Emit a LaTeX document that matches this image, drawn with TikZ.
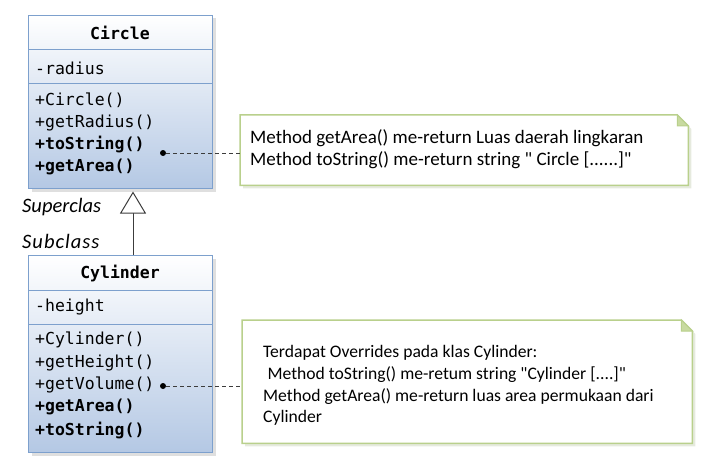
\documentclass[tikz,border=0pt]{standalone}
\usepackage{fontspec}
\setmainfont{Carlito}[Ligatures=TeXOff]
\setmonofont{DejaVu Sans Mono}
\usetikzlibrary{arrows.meta,shadows,backgrounds}
\definecolor{umlborder}{RGB}{125,160,205}
\definecolor{umlbottom}{RGB}{180,200,228}
\definecolor{noteborder}{RGB}{185,208,140}
\definecolor{noteshadow}{RGB}{205,214,190}
\definecolor{notefold}{RGB}{200,218,160}
\definecolor{lineclr}{RGB}{60,60,60}
\begin{document}
\begin{tikzpicture}[x=1pt,y=-1pt,
  classbox/.style={draw=umlborder, line width=1pt, top color=white, bottom color=umlbottom,
    drop shadow={shadow xshift=3pt,shadow yshift=-3pt,fill=black!25}, inner sep=0pt, anchor=north west},
  sepline/.style={draw=umlborder, line width=1pt},
  cname/.style={font=\fontsize{16.5}{19}\selectfont\ttfamily\bfseries, inner sep=0pt},
  member/.style={font=\fontsize{16.5}{19}\selectfont\ttfamily, inner sep=0pt, anchor=west},
  bmember/.style={member, font=\fontsize{16.5}{19}\selectfont\ttfamily\bfseries},
  notebox/.style={fill=white, draw=noteborder, line width=1.5pt,
    drop shadow={shadow xshift=3pt,shadow yshift=-3pt,fill=noteshadow}},
  notearea/.style={inner sep=0pt, anchor=north west},
  notetext/.style={align=left, anchor=west, inner sep=0pt},
  lbl/.style={font=\fontsize{20.5}{22}\selectfont\itshape, inner sep=0pt, anchor=west},
  dot/.style={circle, fill=black, inner sep=0pt, minimum size=6pt},
  dashline/.style={draw=lineclr, line width=1pt, dash pattern=on 4pt off 3pt},
  inherit/.style={draw=lineclr, line width=1pt, shorten >=2.5pt,
    -{Triangle[length=22pt, width=26pt, fill=white]}}
]
\useasboundingbox (0,0) rectangle (705,460);

% ---------- Circle class ----------
\node[classbox, minimum width=184pt, minimum height=173pt] (circle) at (28,15) {};
\coordinate (cs1) at (0,50);
\coordinate (cs2) at (0,84);
\draw[sepline] (circle.west |- cs1) -- (circle.east |- cs1);
\draw[sepline] (circle.west |- cs2) -- (circle.east |- cs2);
\node[cname] (circlename) at (120,33) {Circle};
\node[member] (radius) at (35,68) {-radius};
\node[member] (m1) at (35,100) {+Circle()};
\node[member] (m2) at (35,123) {+getRadius()};
\node[bmember] (m3) at (35,145) {+toString()};
\node[bmember] (m4) at (35,167) {+getArea()};

% ---------- Cylinder class ----------
\node[classbox, minimum width=184pt, minimum height=197pt] (cyl) at (28,255) {};
\coordinate (ys1) at (0,290);
\coordinate (ys2) at (0,324);
\draw[sepline] (cyl.west |- ys1) -- (cyl.east |- ys1);
\draw[sepline] (cyl.west |- ys2) -- (cyl.east |- ys2);
\node[cname] (cylname) at (120,274) {Cylinder};
\node[member] (height) at (35,307) {-height};
\node[member] (k1) at (35,340) {+Cylinder()};
\node[member] (k2) at (35,363) {+getHeight()};
\node[member] (k3) at (35,385) {+getVolume()};
\node[bmember] (k4) at (35,407) {+getArea()};
\node[bmember] (k5) at (35,430) {+toString()};

% ---------- inheritance ----------
\coordinate (ax) at (133,0);
\draw[inherit] (cyl.north -| ax) -- (circle.south -| ax);
\node[lbl] (sup) at (22,207) {Superclas};
\node[lbl, font=\fontsize{20.5}{22}\selectfont\itshape\addfontfeature{LetterSpace=5}] (sub) at (22,241) {Subclass};

% ---------- notes ----------
\node[notearea, minimum width=448pt, minimum height=70pt] (n1) at (240,115) {};
\node[notearea, minimum width=450pt, minimum height=123pt] (n2) at (242,320) {};
\begin{pgfonlayer}{background}
  \filldraw[notebox] (n1.north west) -- ([xshift=-11pt]n1.north east) -- ([yshift=-11pt]n1.north east)
     -- (n1.south east) -- (n1.south west) -- cycle;
  \filldraw[draw=noteborder, fill=notefold, line width=1pt] ([xshift=-11pt]n1.north east) -- ([xshift=-11pt,yshift=-11pt]n1.north east) -- ([yshift=-11pt]n1.north east) -- cycle;
  \filldraw[notebox] (n2.north west) -- ([xshift=-11pt]n2.north east) -- ([yshift=-11pt]n2.north east)
     -- (n2.south east) -- (n2.south west) -- cycle;
  \filldraw[draw=noteborder, fill=notefold, line width=1pt] ([xshift=-11pt]n2.north east) -- ([xshift=-11pt,yshift=-11pt]n2.north east) -- ([yshift=-11pt]n2.north east) -- cycle;
\end{pgfonlayer}
\node[notetext, font=\fontsize{19}{22}\selectfont] (t1) at (250,149)
  {Method getArea() me-return Luas daerah lingkaran\\Method toString() me-return string " Circle [......]"};
\node[notetext, font=\fontsize{17.6}{21.7}\selectfont] (t2) at (263,385.5)
  {Terdapat Overrides pada klas Cylinder:\\\hspace*{0.25em}Method toString() me-retum string "Cylinder [....]"\\Method getArea() me-return luas area permukaan dari\\Cylinder};

% ---------- note connectors ----------
\node[dot] (d1) at (163,153) {};
\node[dot] (d2) at (163,386) {};
\draw[dashline] (d1) -- (d1 -| n1.west);
\draw[dashline] (d2) -- (d2 -| n2.west);
\end{tikzpicture}
\end{document}
